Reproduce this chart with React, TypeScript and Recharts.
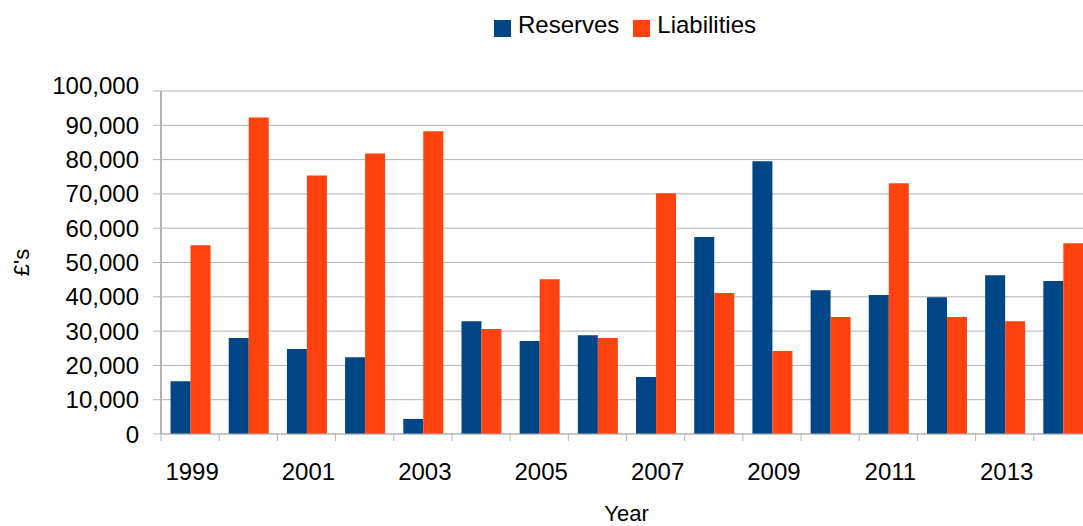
import React from "react";
import { BarChart, Bar, XAxis, YAxis, CartesianGrid, Legend, Label } from "recharts";

const years = [
  "1999", "2000", "2001", "2002", "2003", "2004", "2005", "2006",
  "2007", "2008", "2009", "2010", "2011", "2012", "2013", "2014",
];
const reserves = [
  15400, 28000, 24800, 22400, 4400, 32900, 27100, 28800,
  16600, 57400, 79500, 41900, 40500, 39900, 46300, 44600,
];
const liabilities = [
  55000, 92300, 75400, 81800, 88300, 30600, 45100, 28000,
  70200, 41100, 24200, 34100, 73100, 34100, 32900, 55600,
];
const yTicks = [0, 10000, 20000, 30000, 40000, 50000, 60000, 70000, 80000, 90000, 100000];

const data = years.map((year, i) => ({
  year,
  Reserves: reserves[i],
  Liabilities: liabilities[i],
}));

const BLUE = "#004586";
const ORANGE = "#ff420e";
const GRID = "#b3b3b3";

const CHART_W = 1100;
const CHART_H = 526;
const MARGIN = { top: 91, right: 8, bottom: 0, left: 11 };
const Y_W = 150;
const BAND = (CHART_W - MARGIN.left - MARGIN.right - Y_W) / years.length;

function YTick(props: any) {
  const { x, y, payload } = props;
  // top label sits a little above its gridline
  const shift = payload.value === yTicks[yTicks.length - 1] ? -6 : 0;
  return (
    <text x={x} y={y + shift} dy="0.355em" textAnchor="end" fontSize={24} fill="#000">
      {Number(payload.value).toLocaleString("en-US")}
    </text>
  );
}

function XTick(props: any) {
  const { x, y, payload, index } = props;
  const edge = x - BAND / 2;
  return (
    <g>
      <line x1={edge} x2={edge} y1={y} y2={y + 7} stroke={GRID} strokeWidth={1} />
      {index % 2 === 0 && (
        <text x={x + 2} y={y + 46} textAnchor="middle" fontSize={24} fill="#000">
          {payload.value}
        </text>
      )}
    </g>
  );
}

function LegendContent() {
  const items = [
    { name: "Reserves", color: BLUE },
    { name: "Liabilities", color: ORANGE },
  ];
  return (
    <div style={{ display: "flex", justifyContent: "center", alignItems: "flex-start", lineHeight: "24px" }}>
      {items.map((it, i) => (
        <div key={it.name} style={{ display: "flex", alignItems: "flex-start", marginLeft: i ? 14 : 0 }}>
          <span style={{ width: 17, height: 17, background: it.color, marginTop: 7, marginRight: 7 }} />
          <span style={{ fontSize: 24, color: "#000" }}>{it.name}</span>
        </div>
      ))}
    </div>
  );
}

export default function App() {
  return (
    <div
      style={{
        position: "absolute",
        left: 0,
        top: 0,
        width: 1083,
        height: 526,
        overflow: "hidden",
        background: "#fff",
        fontFamily: "'Liberation Sans', Arial, sans-serif",
      }}
    >
      <BarChart
        width={CHART_W}
        height={CHART_H}
        data={data}
        margin={MARGIN}
        barCategoryGap="16.4%"
        barGap={0}
      >
        <CartesianGrid vertical={false} stroke={GRID} />
        <XAxis
          dataKey="year"
          interval={0}
          height={92}
          tickLine={false}
          tickSize={0}
          tickMargin={0}
          axisLine={{ stroke: GRID }}
          tick={(p: any) => <XTick {...p} />}
        >
          <Label value="Year" position="insideBottom" offset={5} fontSize={22} fill="#000" />
        </XAxis>
        <YAxis
          width={Y_W}
          domain={[0, 100000]}
          ticks={yTicks}
          interval={0}
          tickSize={8}
          tickMargin={14}
          tickLine={{ stroke: GRID }}
          axisLine={{ stroke: GRID, strokeWidth: 2 }}
          tick={(p: any) => <YTick {...p} />}
        >
          <Label
            value="£'s"
            angle={-90}
            position="insideLeft"
            offset={10}
            fontSize={22}
            fill="#000"
            style={{ textAnchor: "middle" }}
          />
        </YAxis>
        <Legend
          verticalAlign="middle"
          align="center"
          content={() => <LegendContent />}
          wrapperStyle={{ top: 13, left: 0, width: 1250 }}
        />
        <Bar dataKey="Reserves" fill={BLUE} isAnimationActive={false} />
        <Bar dataKey="Liabilities" fill={ORANGE} isAnimationActive={false} />
      </BarChart>
    </div>
  );
}
